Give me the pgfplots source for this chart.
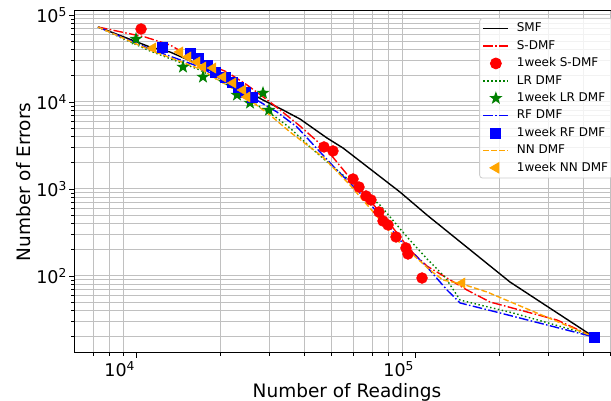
\documentclass[border=0pt]{standalone}
\usepackage{fontspec}
\setmainfont{DejaVu Sans}
\usepackage{pgfplots}
\pgfplotsset{compat=1.18}

\definecolor{mplorange}{rgb}{1,0.647,0}
\definecolor{mplgreen}{rgb}{0,0.5,0}
\definecolor{gridgray}{RGB}{192,192,192}
\definecolor{legendedge}{RGB}{204,204,204}

\pgfdeclareplotmark{fstar}{%
  \pgfpathmoveto{\pgfpointpolar{90}{\pgfplotmarksize}}%
  \pgfpathlineto{\pgfpointpolar{126}{0.4*\pgfplotmarksize}}%
  \pgfpathlineto{\pgfpointpolar{162}{\pgfplotmarksize}}%
  \pgfpathlineto{\pgfpointpolar{198}{0.4*\pgfplotmarksize}}%
  \pgfpathlineto{\pgfpointpolar{234}{\pgfplotmarksize}}%
  \pgfpathlineto{\pgfpointpolar{270}{0.4*\pgfplotmarksize}}%
  \pgfpathlineto{\pgfpointpolar{306}{\pgfplotmarksize}}%
  \pgfpathlineto{\pgfpointpolar{342}{0.4*\pgfplotmarksize}}%
  \pgfpathlineto{\pgfpointpolar{18}{\pgfplotmarksize}}%
  \pgfpathlineto{\pgfpointpolar{54}{0.4*\pgfplotmarksize}}%
  \pgfpathclose
  \pgfusepathqfill}

\pgfplotsset{
  linelegend/.style 2 args={legend image code/.code={\draw[draw=#1, line width=1.5pt, draw opacity=1, #2] (0pt,0pt) -- (25pt,0pt); \path[draw=none] (0pt,0pt) -- (32pt,0pt);}},
  marklegend/.style={legend image code/.code={\draw[##1, fill opacity=1, draw opacity=1] plot coordinates {(12.5pt,0pt)}; \path[draw=none] (0pt,0pt) -- (32pt,0pt);}},
}

\begin{document}
\begin{tikzpicture}
\begin{axis}[
  name=ax,
  scale only axis,
  width=546pt, height=342pt,
  xmode=log, ymode=log,
  xmin=5962, xmax=540000,
  ymin=13.03, ymax=111170,
  xtick={1e4,1e5},
  xticklabels={10\textsuperscript{4},10\textsuperscript{5}},
  ytick={1e2,1e3,1e4,1e5},
  yticklabels={10\textsuperscript{2},10\textsuperscript{3},10\textsuperscript{4},10\textsuperscript{5}},
  minor xtick={7000,8000,9000,20000,30000,40000,50000,60000,70000,80000,90000,200000,300000,400000,500000},
  minor ytick={20,30,40,50,60,70,80,90,200,300,400,500,600,700,800,900,2000,3000,4000,5000,6000,7000,8000,9000,20000,30000,40000,50000,60000,70000,80000,90000},
  xmajorgrids=false, xminorgrids=true, ymajorgrids=true, yminorgrids=true,
  major grid style={gridgray, line width=1pt},
  minor grid style={gridgray, line width=1pt},
  tick align=outside, tick pos=left,
  major tick length=5pt, minor tick length=3pt,
  every tick/.style={black, line width=0.9pt},
  axis line style={black, line width=1pt},
  tick label style={font=\fontsize{17.5}{20}\selectfont},
  xticklabel style={xshift=-17pt},
  yticklabel style={inner sep=2pt},
  label style={font=\fontsize{18.5}{22}\selectfont},
  xlabel={Number of Readings},
  ylabel={Number of Errors},
  legend cell align=left,
  legend style={at={(1,1)}, anchor=north east, xshift=-7pt, yshift=-7pt,
    draw=legendedge, line width=0.8pt, rounded corners=3pt,
    fill=white, fill opacity=0.8, text opacity=1,
    font=\fontsize{12}{14}\selectfont,
    inner xsep=3pt, inner ysep=3pt, row sep=2.9pt,
    nodes={inner sep=1.5pt, text height=9pt, text depth=2.5pt}},
]
% SMF
\addplot[black, line width=1.4pt, linelegend={black}{solid}] coordinates {
(7267,72800) (11163,42870) (13167,37560) (15919,28820) (19890,20430) (24046,14100) (28369,10540) (33455,8091) (38493,6376) (48098,3856) (54893,2960) (87849,923) (109783,502) (217765,85.3) (435620,19.9)};
\addlegendentry{SMF}
% S-DMF
\addplot[red, line width=1.4pt, dash pattern=on 9.6pt off 2.4pt on 1.5pt off 2.4pt, linelegend={red}{dash pattern=on 9.6pt off 2.4pt on 1.5pt off 2.4pt}] coordinates {
(7267,72800) (8157,67210) (10712,55870) (13167,45200) (15919,32020) (21065,22120) (24863,15680) (30051,10000) (35448,6548) (38493,5298) (48098,2807) (58147,1338) (78903,440) (95418,199) (109783,130) (152742,69.0) (184623,50.3) (250637,38.6) (321064,31.2) (435620,19.9)};
\addlegendentry{S-DMF}
\addplot[only marks, mark=*, mark size=5.5pt, red, mark options={draw=none, fill=red}, marklegend] coordinates {
(10366,69030) (46921,3040) (50524,2735) (59620,1303) (62637,1054) (66374,831) (69166,748) (73849,544) (76371,429) (79613,386) (85017,281) (92312,210) (93843,179) (105370,94.8)};
\addlegendentry{1week S-DMF}
% LR
\addplot[mplgreen, line width=1.4pt, dash pattern=on 1.5pt off 2.5pt, linelegend={mplgreen}{dash pattern=on 1.5pt off 2.5pt}] coordinates {
(7267,72800) (11163,38570) (16865,23320) (23468,13030) (26991,9236) (31827,6548) (35448,5024) (41802,3040) (50540,1790) (74481,655) (93843,273) (110684,153) (127345,97.4) (144186,53.0) (170033,46.4) (223259,37.6) (435620,20.4)};
\addlegendentry{LR DMF}
\addplot[only marks, mark=fstar, mark size=7pt, mplgreen, mark options={fill=mplgreen}, marklegend] coordinates {
(9943,52970) (14656,25250) (17287,19390) (22884,12040) (25484,9739) (28369,12690) (29801,8091)};
\addlegendentry{1week LR DMF}
% RF
\addplot[blue, line width=1.4pt, dash pattern=on 9.6pt off 2.4pt on 1.5pt off 2.4pt, linelegend={blue}{dash pattern=on 9.6pt off 2.4pt on 1.5pt off 2.4pt}] coordinates {
(7267,72800) (11163,40670) (16865,25250) (24046,13030) (27675,10000) (31827,7674) (37555,5159) (50540,1838) (66911,747) (87849,259) (109783,127) (129506,69.0) (144186,49.0) (200564,37.6) (435620,19.9)};
\addlegendentry{RF DMF}
\addplot[only marks, mark=square*, mark size=5pt, blue, mark options={draw=none, fill=blue}, marklegend] coordinates {
(12324,42870) (15527,36590) (16590,32020) (17868,26620) (19093,22120) (20723,19390) (21967,16980) (23082,14870) (24455,13030) (25910,11420) (435620,19.9)};
\addlegendentry{1week RF DMF}
% NN
\addplot[mplorange, line width=1.4pt, dash pattern=on 5.5pt off 2.4pt, linelegend={mplorange}{dash pattern=on 5.5pt off 2.4pt}] coordinates {
(7267,72800) (11163,39610) (16865,23950) (23468,12690) (30051,7088) (35448,4520) (46536,2332) (58147,1112) (87849,239) (112575,117) (125273,89.9) (146618,80.9) (180120,65.5) (223259,49.0) (435620,19.9)};
\addlegendentry{NN DMF}
\addplot[only marks, mark=triangle*, mark size=6pt, mplorange, mark options={draw=none, fill=mplorange, rotate=90}, marklegend] coordinates {
(11438,41750) (14293,37560) (15274,32890) (16454,28820) (17287,25250) (18773,24590) (20387,19390) (22146,16540) (24046,13740) (24863,11420) (146618,83.0)};
\addlegendentry{1week NN DMF}
\end{axis}
\pgfresetboundingbox
\path ([xshift=-74pt,yshift=-48pt]ax.south west) rectangle ([xshift=537pt,yshift=353pt]ax.south west);
\end{tikzpicture}
\end{document}
